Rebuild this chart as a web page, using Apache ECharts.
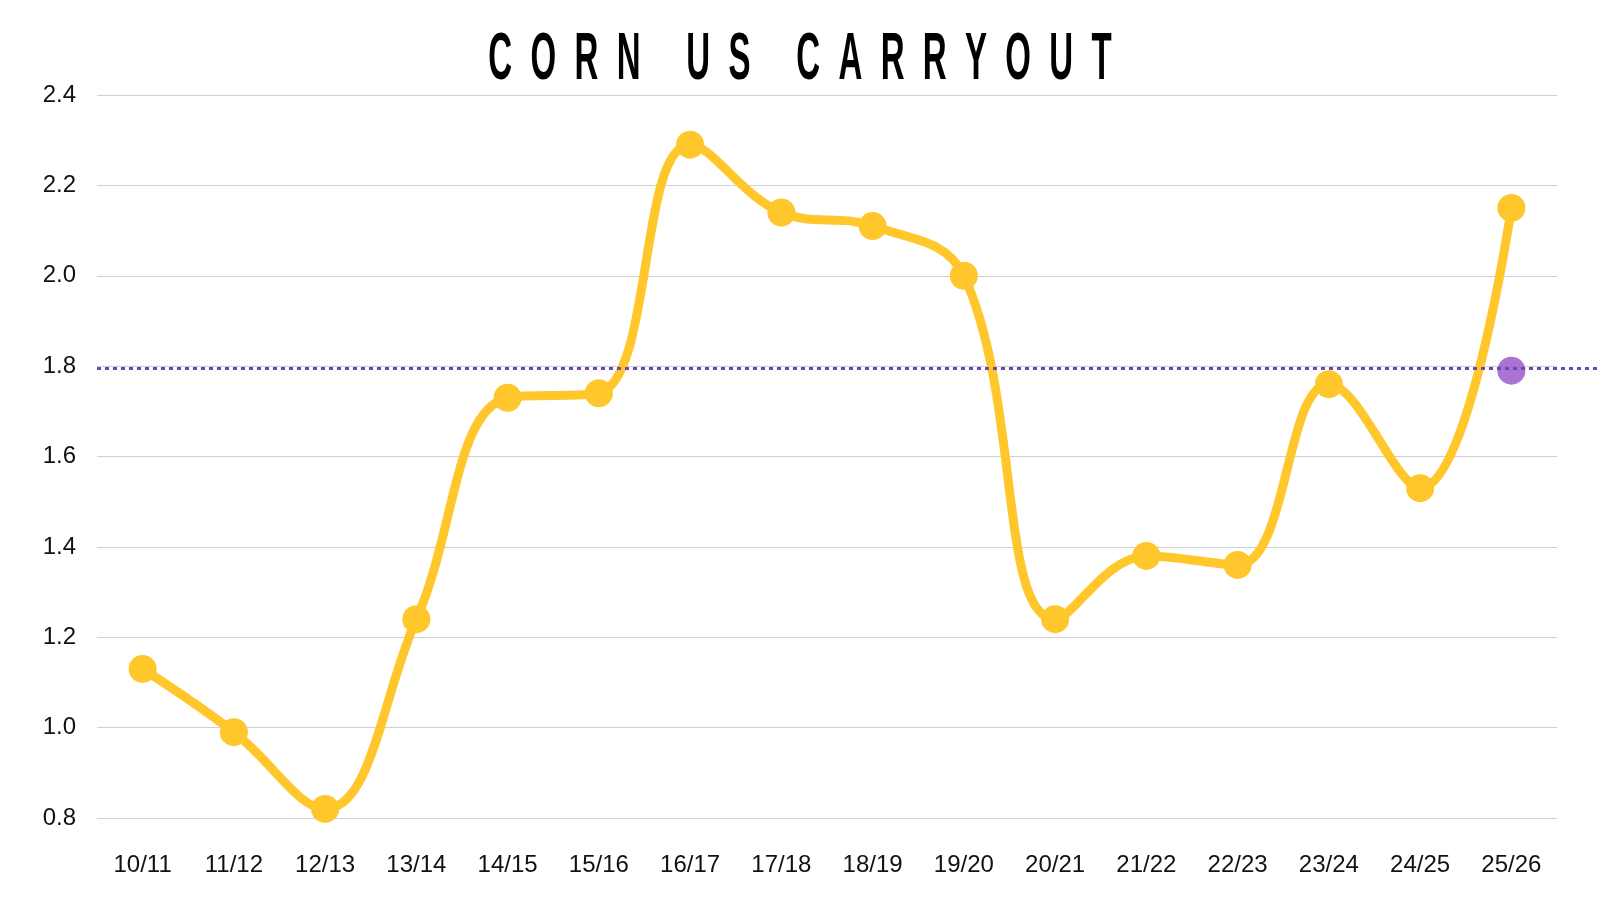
<!DOCTYPE html>
<html>
<head>
    <meta charset="utf-8">
    <script src="https://cdn.jsdelivr.net/npm/echarts@6/dist/echarts.min.js"></script>
    <style>
        html, body { margin: 0; padding: 0; background: #fff; }
    </style>
</head>
<body>
    <div id="main" style="width: 1600px;height:900px;"></div>
    <script type="text/javascript">
        var seasons = ['10/11', '11/12', '12/13', '13/14', '14/15', '15/16', '16/17', '17/18',
            '18/19', '19/20', '20/21', '21/22', '22/23', '23/24', '24/25', '25/26'];
        var carryout = [1.13, 0.99, 0.82, 1.24, 1.73, 1.74, 2.29, 2.14, 2.11, 2.00, 1.24, 1.38, 1.36, 1.76, 1.53, 2.15];
        var estimatePoint = ['25/26', 1.79];
        var averageLevel = 1.795;
        var yTicks = { min: 0.8, max: 2.4, step: 0.2 };
        var titleText = 'C  O  R  N     U  S     C  A  R  R  Y  O  U  T';

        var myChart = echarts.init(document.getElementById('main'));

        var option = {
            animation: false,
            backgroundColor: '#fff',
            grid: { left: 97, right: 43, top: 95, bottom: 82 },
            xAxis: {
                type: 'category',
                data: seasons,
                boundaryGap: true,
                axisLine: { show: false },
                axisTick: { show: false },
                axisLabel: {
                    margin: 35,
                    color: '#111',
                    fontSize: 24,
                    fontFamily: '"Liberation Sans", Arial, sans-serif'
                }
            },
            yAxis: {
                type: 'value',
                min: yTicks.min,
                max: yTicks.max,
                interval: yTicks.step,
                axisLine: { show: false },
                axisTick: { show: false },
                splitLine: { lineStyle: { color: '#d0d0d0', width: 1 } },
                axisLabel: {
                    margin: 21,
                    color: '#111',
                    fontSize: 24,
                    fontFamily: '"Liberation Sans", Arial, sans-serif',
                    formatter: function (v) { return v.toFixed(1); }
                }
            },
            series: [
                {
                    name: 'Carryout',
                    type: 'line',
                    data: carryout,
                    smooth: 0.4,
                    symbol: 'circle',
                    symbolSize: 28,
                    lineStyle: { color: '#FFC72C', width: 9 },
                    itemStyle: { color: '#FFC72C' },
                    z: 3
                },
                {
                    name: 'Estimate',
                    type: 'scatter',
                    data: [estimatePoint],
                    symbolSize: 28,
                    itemStyle: { color: '#9650C8' },
                    z: 4
                }
            ]
        };

        myChart.setOption(option);

        // title: condensed look by squeezing a bold sans horizontally
        // dotted average line: from grid left to the page edge, placed via the y scale
        var yPx = myChart.convertToPixel({ yAxisIndex: 0 }, averageLevel);
        myChart.setOption({
            graphic: [
                {
                    type: 'text',
                    x: 800,
                    y: 61,
                    scaleX: 0.5,
                    style: {
                        text: titleText,
                        fill: '#000',
                        font: 'bold 66px "Liberation Sans", Arial, sans-serif',
                        textAlign: 'center',
                        textVerticalAlign: 'middle'
                    }
                },
                {
                    type: 'line',
                    z: 5,
                    shape: { x1: 97, y1: yPx, x2: 1600, y2: yPx },
                    style: { stroke: '#6B4CB5', lineWidth: 3, lineDash: [4, 4] }
                }
            ]
        });
    </script>
</body>
</html>
